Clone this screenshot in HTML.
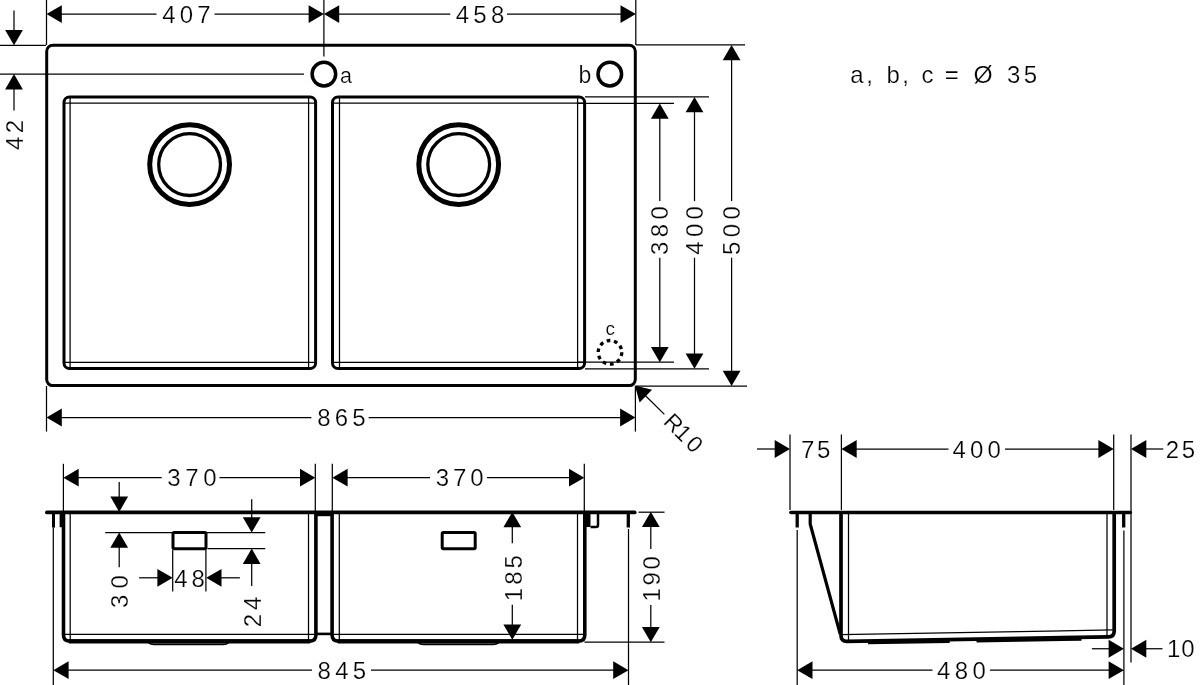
<!DOCTYPE html>
<html><head><meta charset="utf-8"><title>Sink drawing</title>
<style>
html,body{margin:0;padding:0;background:#fff;}
body{width:1200px;height:685px;overflow:hidden;}
svg{display:block;}
svg *{fill:none;stroke:#000;}
svg text{font-family:"Liberation Sans",sans-serif;fill:#000;stroke:#fff;stroke-width:0.22;}
svg .a{fill:#000;stroke:none;}
svg .bg{fill:#fff;stroke:none;}
</style></head><body>
<svg width="1200" height="685" viewBox="0 0 1200 685">
<rect class="bg" x="0" y="0" width="1200" height="685"/>
<g opacity="0.999">
<rect x="46.7" y="45.3" width="588.6" height="340.3" rx="6" ry="6" stroke-width="3.0"/>
<rect x="64" y="96.9" width="251.6" height="271.6" rx="5.5" ry="5.5" stroke-width="3.0"/>
<rect x="332.5" y="96.9" width="252.1" height="271.6" rx="5.5" ry="5.5" stroke-width="3.0"/>
<line x1="70.1" y1="96.9" x2="70.1" y2="368.5" stroke-width="1.25" />
<line x1="308.6" y1="96.9" x2="308.6" y2="368.5" stroke-width="1.25" />
<line x1="64" y1="103.2" x2="315.6" y2="103.2" stroke-width="1.25" />
<line x1="64" y1="362.3" x2="315.6" y2="362.3" stroke-width="1.25" />
<line x1="339.5" y1="96.9" x2="339.5" y2="368.5" stroke-width="1.25" />
<line x1="577.6" y1="96.9" x2="577.6" y2="368.5" stroke-width="1.25" />
<line x1="332.5" y1="103.2" x2="584.6" y2="103.2" stroke-width="1.25" />
<line x1="332.5" y1="362.3" x2="584.6" y2="362.3" stroke-width="1.25" />
<circle cx="189.6" cy="164.6" r="39.9" stroke-width="5.0" />
<circle cx="189.6" cy="164.6" r="30.9" stroke-width="3.3" />
<circle cx="458.7" cy="164.6" r="39.9" stroke-width="5.0" />
<circle cx="458.7" cy="164.6" r="30.9" stroke-width="3.3" />
<circle cx="323.9" cy="74.1" r="11.8" stroke-width="3.5" />
<circle cx="609.8" cy="74.1" r="11.8" stroke-width="3.5" />
<circle cx="610" cy="352.3" r="11.8" stroke-width="3.3" stroke-dasharray="3.7 3.71"/>
<text x="339.99" y="82.9" font-size="21.5">a</text>
<text x="578.52" y="82.9" font-size="23">b</text>
<text x="605.39" y="335.4" font-size="19">c</text>
<line x1="46.5" y1="0" x2="46.5" y2="45" stroke-width="1.25" />
<line x1="323.9" y1="0" x2="323.9" y2="56.5" stroke-width="1.25" />
<line x1="635.8" y1="0" x2="635.8" y2="45" stroke-width="1.25" />
<polygon class="a" points="46.5,14.1 61.8,5.2 61.8,23"/>
<polygon class="a" points="323.9,14.1 308.6,5.2 308.6,23"/>
<polygon class="a" points="323.9,14.1 339.2,5.2 339.2,23"/>
<polygon class="a" points="635.8,14.1 620.5,5.2 620.5,23"/>
<line x1="60" y1="14.1" x2="156.5" y2="14.1" stroke-width="1.25" />
<line x1="214.5" y1="14.1" x2="310" y2="14.1" stroke-width="1.25" />
<line x1="338" y1="14.1" x2="450.3" y2="14.1" stroke-width="1.25" />
<line x1="507" y1="14.1" x2="622" y2="14.1" stroke-width="1.25" />
<text x="162.15 179.65 197.16" y="22.6" font-size="24.0">407</text>
<text x="455.75 473.32 490.9" y="22.6" font-size="24.0">458</text>
<line x1="0" y1="45.3" x2="46" y2="45.3" stroke-width="1.25" />
<line x1="0" y1="74.1" x2="304" y2="74.1" stroke-width="1.25" />
<polygon class="a" points="14,45.3 5.1,30 22.9,30"/>
<line x1="14" y1="10.5" x2="14" y2="32" stroke-width="1.25" />
<polygon class="a" points="14,74.1 5.1,89.4 22.9,89.4"/>
<line x1="14" y1="88" x2="14" y2="110.6" stroke-width="1.25" />
<text transform="translate(23.2,149.5) rotate(-90)" x="-0.55 16.36" y="0" font-size="24.0">42</text>
<line x1="636" y1="44.9" x2="745" y2="44.9" stroke-width="1.25" />
<line x1="585" y1="96.9" x2="709" y2="96.9" stroke-width="1.25" />
<line x1="578" y1="103.4" x2="674" y2="103.4" stroke-width="1.25" />
<line x1="578" y1="362.2" x2="674" y2="362.2" stroke-width="1.25" />
<line x1="585" y1="368.8" x2="709" y2="368.8" stroke-width="1.25" />
<line x1="636" y1="386" x2="747" y2="386" stroke-width="1.25" />
<polygon class="a" points="659.8,103.4 650.9,118.7 668.7,118.7"/>
<polygon class="a" points="659.8,362.2 650.9,346.9 668.7,346.9"/>
<line x1="659.8" y1="116.4" x2="659.8" y2="201.1" stroke-width="1.25" />
<line x1="659.8" y1="257.7" x2="659.8" y2="349.2" stroke-width="1.25" />
<polygon class="a" points="694.5,96.9 685.6,112.2 703.4,112.2"/>
<polygon class="a" points="694.5,368.8 685.6,353.5 703.4,353.5"/>
<line x1="694.5" y1="109.9" x2="694.5" y2="201.1" stroke-width="1.25" />
<line x1="694.5" y1="257.7" x2="694.5" y2="355.8" stroke-width="1.25" />
<polygon class="a" points="731.6,44.9 722.7,60.2 740.5,60.2"/>
<polygon class="a" points="731.6,386 722.7,370.7 740.5,370.7"/>
<line x1="731.6" y1="57.9" x2="731.6" y2="201.1" stroke-width="1.25" />
<line x1="731.6" y1="257.7" x2="731.6" y2="373" stroke-width="1.25" />
<text transform="translate(668.4,254) rotate(-90)" x="-0.91 16.84 34.59" y="0" font-size="24.0">380</text>
<text transform="translate(703,254.2) rotate(-90)" x="-0.55 17.12 34.79" y="0" font-size="24.0">400</text>
<text transform="translate(740.1,254) rotate(-90)" x="-0.96 16.81 34.59" y="0" font-size="24.0">500</text>
<line x1="46.5" y1="386" x2="46.5" y2="431.6" stroke-width="1.25" />
<line x1="635.4" y1="386" x2="635.4" y2="431.6" stroke-width="1.25" />
<polygon class="a" points="46.5,417.5 61.8,408.6 61.8,426.4"/>
<polygon class="a" points="635.4,417.5 620.1,408.6 620.1,426.4"/>
<line x1="60" y1="417.5" x2="311.4" y2="417.5" stroke-width="1.25" />
<line x1="368.6" y1="417.5" x2="622" y2="417.5" stroke-width="1.25" />
<text x="317.16 334.66 352.16" y="426" font-size="24.0">865</text>
<polygon class="a" points="634.9,385.4 639.63,402.46 652.07,389.72"/>
<line x1="643.49" y1="393.78" x2="664.4" y2="414.4" stroke-width="1.25" />
<text transform="translate(663.5,424.2) rotate(45)" x="-1.89 13.86 29.61" y="0" font-size="23">R10</text>
<text y="82.7" font-size="24.0" x="850.28 866.34">a,</text>
<text y="82.7" font-size="24.0" x="886.45 902.34">b,</text>
<text x="921.48" y="82.7" font-size="24.0">c</text>
<text x="944.83" y="82.7" font-size="24.0">=</text>
<text x="973.55" y="82.7" font-size="24.6">Ø</text>
<text x="1007.09 1023.66" y="82.7" font-size="24.0">35</text>
<line x1="46.9" y1="512.4" x2="634.7" y2="512.4" stroke-width="3.7" stroke-linecap="round"/>
<line x1="53.5" y1="512.4" x2="53.5" y2="527.6" stroke-width="3.0" />
<line x1="60.9" y1="512.4" x2="60.9" y2="527.2" stroke-width="2.6" />
<line x1="53.3" y1="527.6" x2="53.3" y2="685" stroke-width="1.25" />
<path d="M63.5,512.4 V635.1 Q63.5,641.1 69.5,641.1 H310 Q315.9,641.1 315.9,635.1 V512.4" stroke-width="3.6" />
<path d="M70.2,512.4 V641.1 M308.5,512.4 V641.1 M63.5,634.4 H315.9" stroke-width="1.25" />
<line x1="315.9" y1="514.7" x2="332.1" y2="514.7" stroke-width="3.0" />
<line x1="315.9" y1="633.9" x2="332.1" y2="633.9" stroke-width="2.6" />
<path d="M332.1,512.4 V635.1 Q332.1,641.1 338.1,641.1 H578.8 Q584.8,641.1 584.8,635.1 V512.4" stroke-width="3.6" />
<path d="M339.3,512.4 V641.1 M577.5,512.4 V641.1 M332.1,634.4 H584.8" stroke-width="1.25" />
<line x1="69" y1="641.4" x2="310" y2="641.4" stroke-width="4.2" />
<line x1="338" y1="641.4" x2="579" y2="641.4" stroke-width="4.2" />
<path d="M148.7,642.6 Q150.5,644.4 154,644.4 H223 Q226.5,644.4 228.5,642.6" stroke-width="1.8" />
<path d="M418,642.6 Q420,644.4 423.5,644.4 H493 Q496.5,644.4 498.5,642.6" stroke-width="1.8" />
<rect x="583" y="512.4" width="7.5" height="14.6" class="a"/>
<path d="M590.5,527 H596 Q598,527 598,525 V512.4" stroke-width="2.5" />
<line x1="628.3" y1="512.4" x2="628.3" y2="527.5" stroke-width="3.3" />
<line x1="628.5" y1="529" x2="628.5" y2="685" stroke-width="1.25" />
<rect x="173" y="532.4" width="33" height="16.3" rx="1.2" ry="1.2" stroke-width="3.0"/>
<rect x="442.2" y="532.4" width="33" height="16.3" rx="1.2" ry="1.2" stroke-width="3.0"/>
<line x1="63.4" y1="463.8" x2="63.4" y2="511.5" stroke-width="1.25" />
<line x1="315.3" y1="463.8" x2="315.3" y2="511.5" stroke-width="1.25" />
<line x1="332.3" y1="463.8" x2="332.3" y2="511.5" stroke-width="1.25" />
<line x1="584.3" y1="463.8" x2="584.3" y2="511.5" stroke-width="1.25" />
<polygon class="a" points="63.4,477.7 78.7,468.8 78.7,486.6"/>
<polygon class="a" points="315.3,477.7 300,468.8 300,486.6"/>
<polygon class="a" points="332.3,477.7 347.6,468.8 347.6,486.6"/>
<polygon class="a" points="584.3,477.7 569,468.8 569,486.6"/>
<line x1="77" y1="477.7" x2="161.7" y2="477.7" stroke-width="1.25" />
<line x1="219.5" y1="477.7" x2="302" y2="477.7" stroke-width="1.25" />
<line x1="346" y1="477.7" x2="430" y2="477.7" stroke-width="1.25" />
<line x1="487" y1="477.7" x2="571" y2="477.7" stroke-width="1.25" />
<text x="167.29 185.24 203.19" y="486.2" font-size="24.0">370</text>
<text x="435.79 452.99 470.19" y="486.2" font-size="24.0">370</text>
<line x1="105.2" y1="532.5" x2="265.3" y2="532.5" stroke-width="1.25" />
<line x1="207.5" y1="548.6" x2="265.3" y2="548.6" stroke-width="1.25" />
<polygon class="a" points="119.2,511.9 110.3,496.6 128.1,496.6"/>
<line x1="119.2" y1="482" x2="119.2" y2="500" stroke-width="1.25" />
<polygon class="a" points="119.2,532.5 110.3,547.8 128.1,547.8"/>
<line x1="119.2" y1="545" x2="119.2" y2="567.2" stroke-width="1.25" />
<text transform="translate(128,607.2) rotate(-90)" x="-0.91 18.59" y="0" font-size="24.0">30</text>
<polygon class="a" points="251.7,532.5 242.8,517.2 260.6,517.2"/>
<line x1="251.7" y1="499.2" x2="251.7" y2="520" stroke-width="1.25" />
<polygon class="a" points="251.7,548.6 242.8,563.9 260.6,563.9"/>
<line x1="251.7" y1="561" x2="251.7" y2="586" stroke-width="1.25" />
<text transform="translate(261,626) rotate(-90)" x="-1.21 16.06" y="0" font-size="24.0">24</text>
<line x1="172.7" y1="550" x2="172.7" y2="591.4" stroke-width="1.25" />
<line x1="205.9" y1="550" x2="205.9" y2="591.4" stroke-width="1.25" />
<polygon class="a" points="172.7,577.8 157.4,568.9 157.4,586.7"/>
<line x1="139.1" y1="577.8" x2="160" y2="577.8" stroke-width="1.25" />
<polygon class="a" points="206.2,577.8 221.5,568.9 221.5,586.7"/>
<line x1="219" y1="577.8" x2="239.9" y2="577.8" stroke-width="1.25" />
<text x="174.15 191.4" y="586.6" font-size="24.0">48</text>
<polygon class="a" points="512.3,512 503.4,527.3 521.2,527.3"/>
<polygon class="a" points="512.3,639.8 503.4,624.5 521.2,624.5"/>
<line x1="512.3" y1="526" x2="512.3" y2="543.2" stroke-width="1.25" />
<line x1="512.3" y1="604.7" x2="512.3" y2="626" stroke-width="1.25" />
<text transform="translate(521.5,599.3) rotate(-90)" x="-1.83 14.47 30.76" y="0" font-size="24.0">185</text>
<line x1="638.5" y1="512.2" x2="664.5" y2="512.2" stroke-width="1.25" />
<line x1="584.4" y1="642" x2="664.5" y2="642" stroke-width="1.25" />
<polygon class="a" points="650.8,511.7 641.9,527 659.7,527"/>
<polygon class="a" points="650.8,642.3 641.9,627 659.7,627"/>
<line x1="650.8" y1="526" x2="650.8" y2="549" stroke-width="1.25" />
<line x1="650.8" y1="605.1" x2="650.8" y2="629" stroke-width="1.25" />
<text transform="translate(659.8,599.6) rotate(-90)" x="-1.83 14.08 29.99" y="0" font-size="24.0">190</text>
<polygon class="a" points="53.3,670.2 68.6,661.3 68.6,679.1"/>
<polygon class="a" points="628.5,670.2 613.2,661.3 613.2,679.1"/>
<line x1="66" y1="670.2" x2="312" y2="670.2" stroke-width="1.25" />
<line x1="371" y1="670.2" x2="616" y2="670.2" stroke-width="1.25" />
<text x="317.56 335.16 352.76" y="678.7" font-size="24.0">845</text>
<line x1="790.9" y1="512.5" x2="1130.2" y2="512.5" stroke-width="3.6" stroke-linecap="round"/>
<line x1="797.2" y1="512.5" x2="797.2" y2="527.5" stroke-width="3.3" />
<line x1="797.2" y1="530" x2="797.2" y2="685" stroke-width="1.25" />
<line x1="1123.7" y1="512.5" x2="1123.7" y2="527.5" stroke-width="3.3" />
<line x1="1123.9" y1="530.5" x2="1123.9" y2="685" stroke-width="1.25" />
<path d="M810.2,512.5 V524 L840.2,634" stroke-width="3.2" stroke-linejoin="round"/>
<path d="M841,512.5 V635.4 Q841,641.4 847,641.3 L1108.5,636.8 Q1114.2,636.7 1114.2,631.2 V512.5" stroke-width="3.7" />
<path d="M848.5,512.5 V641.4 M1107,512.5 V636.7 M841,634.63 L1114,629.93" stroke-width="1.25" />
<path d="M868,643.14 L949.7,641.73 M976.5,641.27 L1081.5,639.46" stroke-width="2.4" />
<line x1="790" y1="434.5" x2="790" y2="510" stroke-width="1.25" />
<line x1="841.4" y1="434.5" x2="841.4" y2="510" stroke-width="1.25" />
<line x1="1113.7" y1="434.5" x2="1113.7" y2="510" stroke-width="1.25" />
<line x1="1131" y1="434.5" x2="1131" y2="662.5" stroke-width="1.25" />
<polygon class="a" points="790,449 774.7,440.1 774.7,457.9"/>
<line x1="757" y1="449" x2="777" y2="449" stroke-width="1.25" />
<polygon class="a" points="841.4,449 856.7,440.1 856.7,457.9"/>
<polygon class="a" points="1113.7,449 1098.4,440.1 1098.4,457.9"/>
<line x1="855" y1="449" x2="948.5" y2="449" stroke-width="1.25" />
<line x1="1005" y1="449" x2="1100" y2="449" stroke-width="1.25" />
<polygon class="a" points="1131,449 1146.3,440.1 1146.3,457.9"/>
<line x1="1144" y1="449" x2="1163.3" y2="449" stroke-width="1.25" />
<text x="800.97 816.96" y="457.5" font-size="24.0">75</text>
<text x="952.45 969.92 987.39" y="457.5" font-size="24.0">400</text>
<text x="1165.79 1181.66" y="457.5" font-size="24.0">25</text>
<polygon class="a" points="1123.9,648.75 1108.6,639.85 1108.6,657.65"/>
<line x1="1091.9" y1="648.75" x2="1111" y2="648.75" stroke-width="1.25" />
<polygon class="a" points="1131,648.75 1146.3,639.85 1146.3,657.65"/>
<line x1="1144" y1="648.75" x2="1162.5" y2="648.75" stroke-width="1.25" />
<text x="1166.92 1181.34" y="656.9" font-size="24.0">10</text>
<polygon class="a" points="797.2,670.2 812.5,661.3 812.5,679.1"/>
<polygon class="a" points="1123.9,670.2 1108.6,661.3 1108.6,679.1"/>
<line x1="810" y1="670.2" x2="932.5" y2="670.2" stroke-width="1.25" />
<line x1="990" y1="670.2" x2="1111" y2="670.2" stroke-width="1.25" />
<text x="936.95 954.67 972.39" y="678.7" font-size="24.0">480</text>
</g>
</svg>
</body></html>
